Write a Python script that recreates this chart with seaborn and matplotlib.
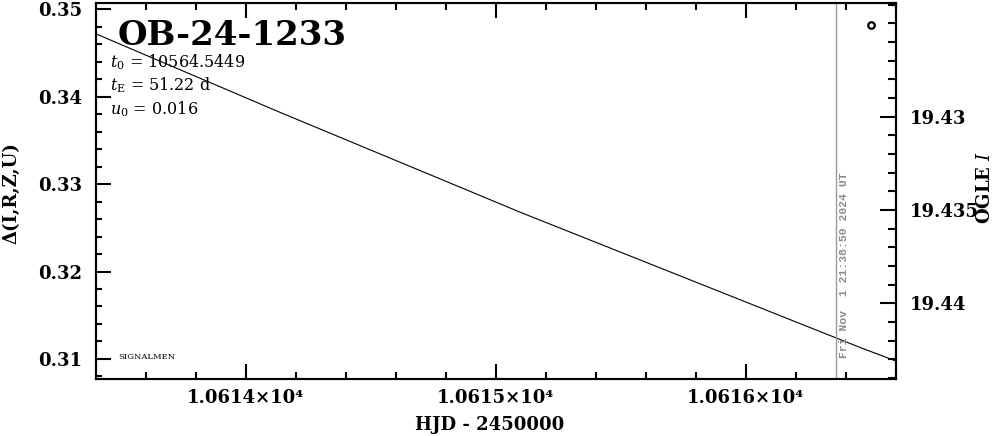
import numpy as np
import pandas as pd
import matplotlib
matplotlib.use('Agg')
import matplotlib.pyplot as plt
from matplotlib.ticker import MultipleLocator, FixedLocator, FixedFormatter
import seaborn as sns

# model curve (HJD - 2450000 vs delta)
model_hjd = [10613.402, 10614.138, 10614.938, 10615.098, 10616.458, 10616.602]
model_delta = [0.34718, 0.33820, 0.32869, 0.32678, 0.31130, 0.30974]

# OGLE I point (right axis)
ogle_hjd = [10616.501]
ogle_mag = [19.42509]

now_hjd = 10616.359
now_label = "Fri Nov  1 21:38:50 2024 UT"

event = "OB-24-1233"
params = [r"$t_0$ = 10564.5449", r"$t_{\rm E}$ = 51.22 d", r"$u_0$ = 0.016"]

xticks = [10614, 10615, 10616]
xtick_labels = ["1.0614×10⁴", "1.0615×10⁴", "1.0616×10⁴"]
yticks = [0.31, 0.32, 0.33, 0.34, 0.35]
ytick_labels = ["0.31", "0.32", "0.33", "0.34", "0.35"]
mag_ticks = [19.43, 19.435, 19.44]
mag_labels = ["19.43", "19.435", "19.44"]

sns.set_theme(style="ticks")
plt.rcParams['font.family'] = ['DejaVu Serif']
plt.rcParams['mathtext.fontset'] = 'dejavuserif'
for k in ['text.color', 'axes.edgecolor', 'axes.labelcolor', 'xtick.color', 'ytick.color']:
    plt.rcParams[k] = 'black'

model = pd.DataFrame({'hjd': model_hjd, 'delta': model_delta})
ogle = pd.DataFrame({'hjd': ogle_hjd, 'mag': ogle_mag})

fig = plt.figure(figsize=(9.99, 4.36), dpi=100)
ax = fig.add_axes([96/999, 1-379/436, 800/999, 375.7/436])

sns.lineplot(data=model, x='hjd', y='delta', ax=ax, color='black', lw=0.8)
ax.axvline(now_hjd, color='#9a9a9a', lw=1.0)

ax.set_xlim(10613.401, 10616.601)
ax.set_ylim(0.30770, 0.35069)
ax.set_xlabel('')
ax.set_ylabel('')

ax.xaxis.set_major_locator(FixedLocator(xticks))
ax.xaxis.set_major_formatter(FixedFormatter(xtick_labels))
ax.xaxis.set_minor_locator(MultipleLocator(0.2))
ax.yaxis.set_major_locator(FixedLocator(yticks))
ax.yaxis.set_major_formatter(FixedFormatter(ytick_labels))
ax.yaxis.set_minor_locator(MultipleLocator(0.002))

ax.tick_params(axis='x', which='both', direction='in', top=True, bottom=True, width=1.5)
ax.tick_params(axis='x', which='major', length=11, pad=7, labelsize=13)
ax.tick_params(axis='x', which='minor', length=5)
ax.tick_params(axis='y', which='both', direction='in', left=True, right=False, width=1.5)
ax.tick_params(axis='y', which='major', length=10.5, pad=10, labelsize=13)
ax.tick_params(axis='y', which='minor', length=4)
for lab in ax.get_xticklabels() + ax.get_yticklabels():
    lab.set_fontweight('bold')
for sp in ax.spines.values():
    sp.set_linewidth(1.5)
    sp.set_color('black')

ax2 = ax.twinx()
sns.scatterplot(data=ogle, x='hjd', y='mag', ax=ax2, marker='o', s=22,
                facecolor='white', edgecolor='black', linewidth=1.6)
ax2.set_ylim(19.44406, 19.42392)
ax2.set_ylabel('')
ax2.yaxis.set_major_locator(FixedLocator(mag_ticks))
ax2.yaxis.set_major_formatter(FixedFormatter(mag_labels))
ax2.yaxis.set_minor_locator(MultipleLocator(0.001))
ax2.tick_params(axis='y', which='both', direction='in', right=True, left=False, width=1.5)
ax2.tick_params(axis='y', which='major', length=11.5, pad=10, labelsize=13)
ax2.tick_params(axis='y', which='minor', length=6)
for lab in ax2.get_yticklabels():
    lab.set_fontweight('bold')
for sp in ax2.spines.values():
    sp.set_linewidth(1.5)
    sp.set_color('black')

ax.text(0.0275, 0.958, event, transform=ax.transAxes, fontsize=24.5, fontweight='bold',
        va='top', ha='left')
for i, p in enumerate(params):
    ax.text(0.0175, 0.843 - i*0.062, p, transform=ax.transAxes, fontsize=11.5, va='center', ha='left')
ax.text(0.0275, 0.058, "SIGNALMEN", transform=ax.transAxes, fontsize=6, va='center', ha='left')

ax.text(now_hjd + 0.012, 0.056, now_label, transform=ax.get_xaxis_transform(),
        rotation=90, ha='left', va='bottom', color='#8a8a8a', fontsize=8.2,
        family='Liberation Mono', fontweight='bold')

fig.text(490/999, 1-425/436, "HJD - 2450000", ha='center', va='center', fontsize=13, fontweight='bold')
fig.text(11/999, 1-193/436, "Δ(I,R,Z,U)", ha='center', va='center', rotation=90, fontsize=13, fontweight='bold')
fig.text(985/999, 1-187/436, "OGLE $I$", ha='center', va='center', rotation=90, fontsize=13, fontweight='bold')

fig.savefig('out.png', dpi=100)
